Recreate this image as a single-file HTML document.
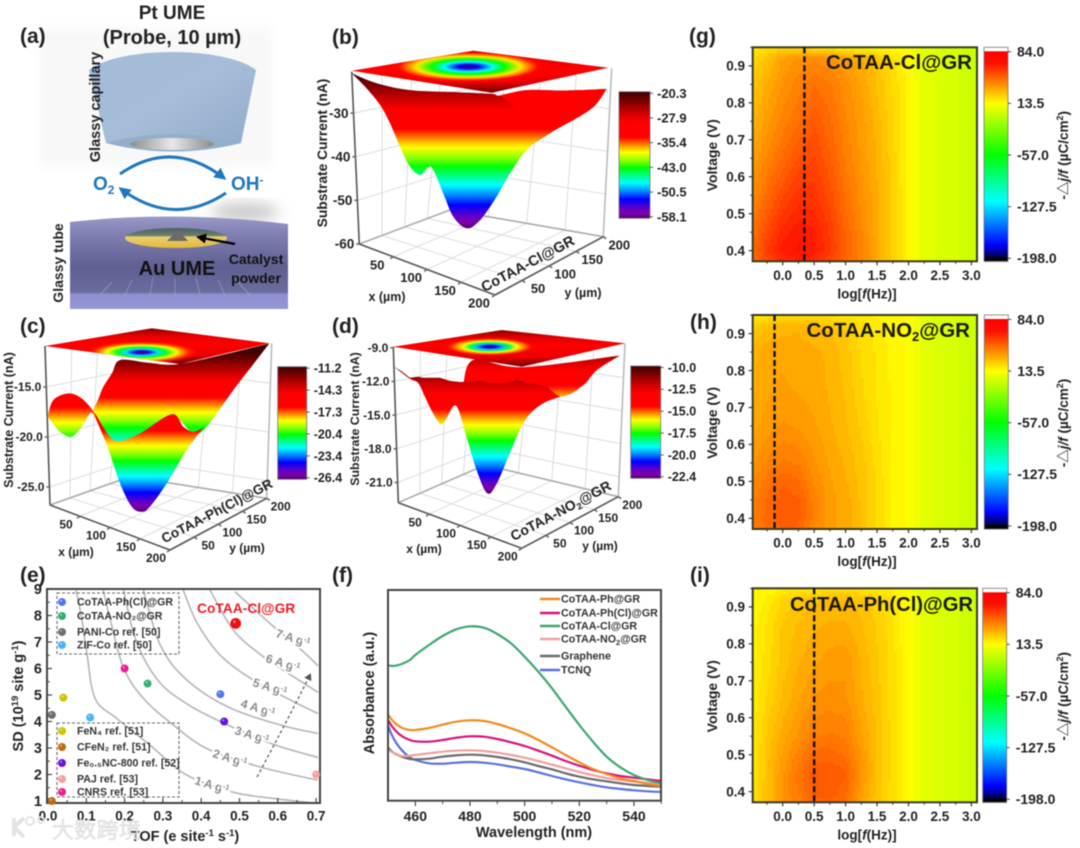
<!DOCTYPE html>
<html lang="en">
<head>
<meta charset="utf-8">
<title>Catalyst characterization figure</title>
<style>
html,body{margin:0;padding:0;background:#fff;width:1080px;height:848px;overflow:hidden}
svg{display:block;filter:blur(0.4px)}
text{font-family:"Liberation Sans","Noto Sans CJK SC",sans-serif;font-weight:bold;fill:#222}
</style>
</head>
<body>
<svg id="figure" xmlns="http://www.w3.org/2000/svg" width="1080" height="848" viewBox="0 0 1080 848">
<defs id="defs">
  <linearGradient id="capGrad" x1="0" y1="0" x2="1" y2="1"><stop offset="0" stop-color="#a3bcd8"/><stop offset=".5" stop-color="#a6bdd8"/><stop offset="1" stop-color="#8fa9c9"/></linearGradient>
  <linearGradient id="diskGrad" x1="0" y1="0" x2="1" y2="0"><stop offset="0" stop-color="#8d8d8d"/><stop offset=".5" stop-color="#e8e8e8"/><stop offset="1" stop-color="#8a8a8a"/></linearGradient>
  <linearGradient id="tubeGrad" x1="0" y1="0" x2="0" y2="1"><stop offset="0" stop-color="#9a9ac8"/><stop offset=".2" stop-color="#7e7eb0"/><stop offset=".55" stop-color="#5f6091"/><stop offset=".82" stop-color="#6b6c9f"/><stop offset=".84" stop-color="#8f90cf"/><stop offset="1" stop-color="#9596d6"/></linearGradient>
  <linearGradient id="auGrad" x1="0" y1="0" x2="0" y2="1"><stop offset="0" stop-color="#47605f"/><stop offset=".38" stop-color="#6d7f72"/><stop offset=".45" stop-color="#e8cf70"/><stop offset="1" stop-color="#e2b93a"/></linearGradient>
  <filter id="soft" x="-30%" y="-30%" width="160%" height="160%"><feGaussianBlur stdDeviation="7"/></filter>
  <filter id="softBg" x="-10%" y="-10%" width="120%" height="120%"><feGaussianBlur stdDeviation="5"/></filter>
  <marker id="arrowBlue" markerWidth="13" markerHeight="13" refX="9" refY="6" orient="auto" markerUnits="userSpaceOnUse"><path d="M0,0 L12,6 L0,12 Z" fill="#1f78bd"/></marker>
  <marker id="arrowBlack" markerWidth="11" markerHeight="11" refX="6" refY="5" orient="auto" markerUnits="userSpaceOnUse"><path d="M0,0 L10,5 L0,10 Z" fill="#000"/></marker>
  <marker id="arrowGrey" markerWidth="8" markerHeight="8" refX="5" refY="4" orient="auto" markerUnits="userSpaceOnUse"><path d="M0,0 L7,4 L0,8 Z" fill="#555"/></marker>
</defs>

<!-- panel a -->
<g id="panel-a">
  <rect x="40" y="28" width="232" height="138" fill="#f8f8f8" filter="url(#softBg)"/>
  <path d="M89,70 C120,46 225,46 256,70 L241,143 Q172,160 106,143 Z" fill="url(#capGrad)"/>
  <path d="M106,143 Q172,125 241,143 Q172,160 106,143 Z" fill="#93aecb"/>
  <ellipse cx="172" cy="144" rx="42" ry="6" fill="url(#diskGrad)"/>
  <ellipse cx="245" cy="212" rx="34" ry="9" fill="#c8c8c8" filter="url(#soft)"/>
  <path d="M120,174 Q172,138 224,178" fill="none" stroke="#1f78bd" stroke-width="3" marker-end="url(#arrowBlue)"/>
  <path d="M226,193 Q173,228 121,189" fill="none" stroke="#1f78bd" stroke-width="3" marker-end="url(#arrowBlue)"/>
  <path d="M70,222 Q175,210 288,224 L288,309 L70,309 Z" fill="url(#tubeGrad)"/>
  <g stroke="#b9b9e2" stroke-width=".6" opacity=".7">
    <path d="M100,295 L112,282 M125,295 L132,280 M150,295 L153,278 M175,295 L175,278 M200,295 L196,278 M225,295 L218,280 M250,295 L238,282"/>
  </g>
  <ellipse cx="176" cy="238" rx="51" ry="10" fill="url(#auGrad)"/>
  <path d="M178,230 L167,241 L188,241 Z" fill="#6d6a6a"/>
  <line x1="235" y1="244" x2="200" y2="237.5" stroke="#000" stroke-width="2.2" marker-end="url(#arrowBlack)"/>
  <text x="172" y="19" font-size="19" text-anchor="middle">Pt UME</text>
  <text x="172" y="44" font-size="20" text-anchor="middle">(Probe, 10 µm)</text>
  <text transform="translate(100,107) rotate(-90)" font-size="14.5" text-anchor="middle">Glassy capillary</text>
  <text transform="translate(63,263) rotate(-90)" font-size="14" text-anchor="middle">Glassy tube</text>
  <text x="93" y="190" font-size="19" style="fill:#1f78bd">O<tspan font-size="12" dy="4">2</tspan></text>
  <text x="231" y="190" font-size="19" style="fill:#1f78bd">OH<tspan font-size="12" dy="-6">-</tspan></text>
  <text x="177" y="275" font-size="20" text-anchor="middle" style="fill:#111">Au UME</text>
  <text x="256" y="264" font-size="14" text-anchor="middle" style="fill:#111">Catalyst</text>
  <text x="256" y="283" font-size="14" text-anchor="middle" style="fill:#111">powder</text>
</g>

<g id="panel-b"></g>
<g id="panel-c"></g>
<g id="panel-d"></g>
<g id="panel-e"></g>
<g id="panel-f"></g>
<g id="panel-g"></g>
<g id="panel-h"></g>
<g id="panel-i"></g>

<!-- panel letters -->
<g font-size="21">
  <text x="20" y="43" font-size="21">(a)</text>
  <text x="332" y="44" font-size="21">(b)</text>
  <text x="20" y="333" font-size="21">(c)</text>
  <text x="332" y="333" font-size="21">(d)</text>
  <text x="20" y="582" font-size="21">(e)</text>
  <text x="332" y="582" font-size="21">(f)</text>
  <text x="689" y="43" font-size="21">(g)</text>
  <text x="690" y="329" font-size="21">(h)</text>
  <text x="690" y="582" font-size="21">(i)</text>
</g>

<!-- static axis titles -->
<text transform="translate(327,153) rotate(-90)" font-size="13.8" text-anchor="middle">Substrate Current (nA)</text>
<text transform="translate(13,420) rotate(-90)" font-size="12.6" text-anchor="middle">Substrate Current (nA)</text>
<text transform="translate(359,419) rotate(-90)" font-size="12.4" text-anchor="middle">Substrate Current (nA)</text>
<text x="387" y="301" font-size="12.5" text-anchor="middle">x (µm)</text>
<text x="583" y="297" font-size="12.5" text-anchor="middle">y (µm)</text>
<text x="76" y="556" font-size="12" text-anchor="middle">x (µm)</text>
<text x="247" y="552" font-size="12" text-anchor="middle">y (µm)</text>
<text x="424" y="553" font-size="12" text-anchor="middle">x (µm)</text>
<text x="600" y="550" font-size="12" text-anchor="middle">y (µm)</text>
<text transform="translate(530,268) rotate(-28)" font-size="14.5" text-anchor="middle">CoTAA-Cl@GR</text>
<text transform="translate(219,515) rotate(-27.5)" font-size="13.6" text-anchor="middle">CoTAA-Ph(Cl)@GR</text>
<text transform="translate(563,515) rotate(-28)" font-size="14" text-anchor="middle">CoTAA-NO<tspan font-size="9" dy="3">2</tspan><tspan dy="-3">@GR</tspan></text>

<text transform="translate(23,696) rotate(-90)" font-size="14.5" text-anchor="middle">SD (10<tspan font-size="9.5" dy="-5">19</tspan><tspan dy="5"> site g</tspan><tspan font-size="9.5" dy="-5">-1</tspan><tspan dy="5">)</tspan></text>
<text x="185" y="841" font-size="14.5" text-anchor="middle">TOF (e site<tspan font-size="9.5" dy="-5">-1</tspan><tspan dy="5"> s</tspan><tspan font-size="9.5" dy="-5">-1</tspan><tspan dy="5">)</tspan></text>
<text x="197" y="613" font-size="13.8" style="fill:#ee1c25">CoTAA-Cl@GR</text>

<text x="534" y="837" font-size="14.5" text-anchor="middle">Wavelength (nm)</text>
<text transform="translate(374,693) rotate(-90)" font-size="14.5" text-anchor="middle">Absorbance (a.u.)</text>

<text x="972" y="69" font-size="20.5" text-anchor="end" style="fill:#1a1a10">CoTAA-Cl@GR</text>
<text x="970" y="337" font-size="20.5" text-anchor="end" style="fill:#1a1a10">CoTAA-NO<tspan font-size="13" dy="4">2</tspan><tspan dy="-4">@GR</tspan></text>
<text x="973" y="611" font-size="20.2" text-anchor="end" style="fill:#1a1a10">CoTAA-Ph(Cl)@GR</text>

<!-- watermark -->
<g id="watermark" opacity=".95">
  <path d="M14,818 L14,836 M14,827 L24,818 M14,827 L24,837" fill="none" stroke="#e2e2e2" stroke-width="4"/>
  <circle cx="30" cy="821" r="4" fill="none" stroke="#e2e2e2" stroke-width="2"/>
  <circle cx="41" cy="820" r="3" fill="none" stroke="#e2e2e2" stroke-width="2"/>
  <text x="52" y="838" font-size="22" style="fill:#eaeaea;stroke:#cfcfcf;stroke-width:.4;font-weight:normal;letter-spacing:.3px">大数跨境</text>
</g>
</svg>

<script>
/* ---------- panel (b) surface data: u = position across the view (µm), currents in nA ---------- */
const bTicksZ = [-30, -40, -50, -60];
const bBarLabels = ['-20.3', '-27.9', '-35.4', '-43.0', '-50.5', '-58.1'];
const bUpperU = [0, 19.6, 45.8, 83.7, 109.8, 116.3, 137.3, 168.6, 200];
const bUpperI = [-20.3, -22.7, -24.4, -24.9, -25.3, -25.7, -24.4, -24.5, -24.1];
const bLowerU = [0, 11.8, 22.2, 30.1, 37.9, 45.8, 53.6, 60.1, 64.1, 71.9, 79.7, 90.2, 100.7, 113.7, 124.2, 137.3, 155.6, 186.9, 200];
const bLowerI = [-20.3, -24, -28, -32.5, -38.2, -43.1, -45.1, -43.2, -43.9, -49.6, -55.3, -58.1, -56.1, -50.4, -44.7, -39, -34.9, -29.2, -24.1];
const bFlapUpperU = [116.3, 137.3, 168.6, 200];
const bFlapUpperI = [-25.7, -24.4, -24.5, -24.1];
const bFlapLowerU = [116.3, 135, 155.6, 186.9, 200];
const bFlapLowerI = [-25.7, -30, -33.5, -29.2, -24.1];
const bPlaneRadii = [0, 12, 28, 42, 60, 80, 100];
const bPlaneLevels = [-58.1, -53, -47.5, -43, -38, -34, -30];

/* ---------- panel (c) surface data ---------- */
const cTicksZ = [-15, -20, -25];
const cBarLabels = ['-11.2', '-14.3', '-17.3', '-20.4', '-23.4', '-26.4'];
const cBackUpperU = [41.2, 46, 50.2, 58, 65.3, 90, 116.4, 160, 200];
const cBackUpperI = [-18.2, -16.8, -15.4, -13.8, -12.2, -12.5, -12.7, -11.5, -10.2];
const cBackLowerU = [41.2, 56.2, 83.3, 111.9, 131.4, 143.5, 167.5, 185, 200];
const cBackLowerI = [-18.2, -21.8, -21.4, -19, -21, -20.2, -15.8, -12.8, -10.2];
const cLobeUpperU = [0, 5.1, 18.6, 30.7, 42.7, 53.2];
const cLobeUpperI = [-17.8, -15.8, -15, -15.6, -17.4, -19.8];
const cLobeLowerU = [0, 11.1, 21.7, 30.7, 38.2, 42.7, 53.2];
const cLobeLowerI = [-17.8, -19.6, -20.2, -19, -17.4, -17.8, -19.8];
const cWellUpperU = [42.7, 56.2, 65.3, 83.3, 111.9, 122.4, 131.4, 140.5];
const cWellUpperI = [-14.6, -17.4, -17.9, -17, -14.7, -16.2, -16.8, -16.3];
const cWellLowerU = [42.7, 51.7, 56.2, 65.3, 75.8, 84.8, 92.3, 107.4, 125.4, 140.5];
const cWellLowerI = [-15, -17.8, -19.4, -23, -25.8, -26.4, -25.8, -23, -19, -16.3];
const cPlaneRadii = [0, 12, 28, 42, 60, 80, 100];
const cPlaneLevels = [-26.4, -24.6, -22.4, -20.6, -18.6, -17, -15.5];

/* ---------- panel (d) surface data ---------- */
const dTicksZ = [-9, -12, -15, -18, -21];
const dBarLabels = ['-10.0', '-12.5', '-15.0', '-17.5', '-20.0', '-22.4'];
const dBackUpperU = [61.8, 71.2, 113.2, 200];
const dBackUpperI = [-14.2, -12, -12.7, -11.6];
const dBackLowerU = [61.8, 100, 147.1, 167.6, 179.4, 200];
const dBackLowerI = [-14.2, -15.5, -15.5, -14.4, -13, -11.6];
const dMainUpperU = [0, 7.4, 14.7, 22.1, 26.5, 32.4, 41.2, 50, 58.8, 70.6, 76.5, 85.3, 94.1, 100, 108.8, 113.2, 117.6, 126.5, 135.3, 144.1, 147.1];
const dMainUpperI = [-10.4, -10.9, -11.5, -11.4, -11.5, -11.5, -11.5, -11.8, -11.9, -11.9, -11.8, -12, -12, -12, -11.7, -11.8, -12, -12.1, -12.3, -13.1, -13.3];
const dMainLowerU = [0, 14.7, 22.1, 27.9, 35.3, 42.1, 47.1, 52.9, 57.4, 64.7, 73.5, 82.9, 91.2, 102.9, 111.8, 120.6, 132.4, 147.1];
const dMainLowerI = [-10.4, -11.6, -12, -13.3, -14.9, -15.9, -15.3, -14.2, -14.5, -17.1, -20.2, -22.4, -21.5, -18.6, -16.4, -14.9, -13.9, -13.3];
const dPlaneRadii = [0, 14, 30, 44, 60, 80, 100];
const dPlaneLevels = [-22.4, -20.8, -19.4, -18, -16, -15, -14];

/* ---------- panel (e) data ---------- */
const tofTicks = [0, 0.1, 0.2, 0.3, 0.4, 0.5, 0.6, 0.7];
const sdTicks = [1, 2, 3, 4, 5, 6, 7, 8, 9];
const catalystNames = ['CoTAA-Cl@GR', 'CoTAA-Ph(Cl)@GR', 'CoTAA-NO2@GR', 'PANI-Co', 'ZIF-Co', 'FeN4', 'CFeN2', 'Fe0.5NC-800', 'PAJ', 'CNRS'];
const catalystTof = [0.49, 0.45, 0.26, 0.01, 0.11, 0.04, 0.01, 0.46, 0.70, 0.20];
const catalystSd = [7.7, 5.03, 5.43, 4.25, 4.15, 4.9, 1.0, 4.0, 2.0, 6.0];
const catalystColors = ['#f01010', '#4f78f0', '#2fb070', '#6e6e6e', '#45b4f5', '#cfc400', '#c06a10', '#6a10e0', '#f5a0a0', '#ee1a90'];
const curve1Tof = [0.073, 0.088, 0.101, 0.123, 0.179, 0.266, 0.362, 0.484, 0.588, 0.702];
const curve1Sd = [8.96, 7.89, 6.63, 4.87, 4.12, 3.11, 1.98, 1.33, 1.10, 0.91];
const curve2Tof = [0.144, 0.166, 0.198, 0.249, 0.327, 0.414, 0.536, 0.623, 0.705];
const curve2Sd = [8.96, 7.64, 6.0, 4.87, 3.87, 2.98, 2.36, 2.04, 1.79];
const curve3Tof = [0.197, 0.231, 0.29, 0.37, 0.460, 0.588, 0.705];
const curve3Sd = [8.96, 7.01, 5.5, 4.6, 3.93, 3.14, 2.64];
const curve4Tof = [0.249, 0.293, 0.36, 0.47, 0.606, 0.705];
const curve4Sd = [8.96, 6.89, 5.6, 4.55, 3.87, 3.55];
const curve5Tof = [0.353, 0.39, 0.45, 0.532, 0.641, 0.705];
const curve5Sd = [8.96, 7.7, 6.5, 5.6, 4.75, 4.30];
const curve6Tof = [0.423, 0.484, 0.562, 0.667, 0.705];
const curve6Sd = [8.96, 7.45, 6.45, 5.45, 5.10];
const curve7Tof = [0.488, 0.580, 0.667, 0.705];
const curve7Sd = [8.90, 7.70, 6.63, 6.10];
const currentLabels = ['1 A g', '2 A g', '3 A g', '4 A g', '5 A g', '6 A g', '7 A g'];

/* ---------- panel (f) data ---------- */
const wavelengths = [450, 452, 455, 458, 460, 465, 470, 475, 480, 485, 490, 495, 500, 505, 510, 515, 520, 525, 530, 535, 540, 545, 550];
const wavelengthTicks = [460, 480, 500, 520, 540];
const absNames = ['TCNQ', 'Graphene', 'CoTAA-NO2@GR', 'CoTAA-Ph(Cl)@GR', 'CoTAA-Ph@GR', 'CoTAA-Cl@GR'];
const absColors = ['#5a70e0', '#6a6a6a', '#f0a0a0', '#d8127a', '#f08c1e', '#3fa672'];
const absTcnq = [225, 187, 152, 130, 122, 112, 111, 114, 116, 114, 109, 102, 95, 85, 74, 64, 55, 47, 40, 35, 31, 28, 26];
const absGraphene = [159, 144, 132, 125, 124, 126, 132, 136, 138, 136, 131, 124, 115, 104, 94, 82, 72, 64, 58, 52, 47, 44, 42];
const absNo2 = [152, 144, 134, 135, 137, 142, 147, 150, 151, 149, 144, 137, 129, 119, 108, 97, 86, 76, 68, 62, 57, 54, 50];
const absPhCl = [242, 217, 194, 182, 178, 177, 182, 189, 193, 192, 185, 175, 164, 150, 135, 119, 105, 92, 82, 74, 69, 64, 59];
const absPh = [259, 237, 219, 212, 212, 218, 228, 237, 241, 239, 230, 217, 202, 182, 160, 137, 115, 95, 80, 67, 59, 50, 44];
const absCl = [407, 404, 410, 422, 437, 467, 494, 514, 523, 519, 500, 472, 432, 387, 337, 282, 227, 177, 132, 100, 77, 62, 52];
const absLegendNames = ['CoTAA-Ph@GR', 'CoTAA-Ph(Cl)@GR', 'CoTAA-Cl@GR', 'CoTAA-NO2@GR', 'Graphene', 'TCNQ'];
const absLegendColors = ['#f08c1e', '#d8127a', '#3fa672', '#f0a0a0', '#6a6a6a', '#5a70e0'];

/* ---------- panels (g,h,i) heatmap data: rows by voltage, columns by log f ---------- */
const heatLogF = [-0.48, -0.25, 0, 0.25, 0.5, 0.75, 1, 1.25, 1.5, 1.75, 2, 2.25, 2.5, 2.75, 3.1];
const heatVoltage = [0.95, 0.92, 0.85, 0.75, 0.65, 0.55, 0.5, 0.45, 0.4, 0.37];
const heatXTicks = [0, 0.5, 1, 1.5, 2, 2.5, 3];
const heatYTicks = [0.4, 0.5, 0.6, 0.7, 0.8, 0.9];
const heatBarTicks = [84, 13.5, -57, -127.5, -198];
const heatG = [
  [18, 20, 22, 22, 20, 18, 16, 15, 14, 13, 12, 6, 4, 2, -2],
  [22, 27, 35, 38, 40, 38, 35, 32, 27, 21, 14, 6, 4, 2, -2],
  [26, 32, 38, 42, 46, 44, 39, 34, 28, 22, 15, 6, 4, 2, -2],
  [30, 36, 42, 46, 52, 47, 41, 36, 30, 23, 15, 6, 4, 2, -2],
  [35, 41, 47, 53, 56, 50, 43, 37, 31, 24, 15, 6, 4, 2, -2],
  [40, 47, 55, 60, 60, 54, 46, 39, 32, 25, 15, 6, 4, 2, -2],
  [43, 51, 59, 63, 62, 56, 47, 40, 33, 25, 15, 6, 4, 2, -2],
  [45, 55, 63, 67, 65, 58, 49, 41, 33, 25, 15, 6, 4, 2, -2],
  [47, 58, 66, 68, 66, 59, 50, 42, 33, 25, 15, 6, 4, 2, -2],
  [46, 55, 62, 64, 62, 55, 48, 41, 33, 25, 15, 6, 4, 2, -2]
];
const heatH = [
  [18, 19, 20, 20, 19, 19, 18, 17, 16, 15, 13, 5, 4, 2, -1],
  [24, 28, 30, 31, 29, 28, 25, 21, 18, 15, 13, 5, 4, 2, -1],
  [30, 34, 34, 33, 32, 31, 27, 22, 19, 15, 13, 5, 4, 2, -1],
  [31, 34, 35, 34, 33, 31, 28, 23, 19, 16, 13, 5, 4, 2, -1],
  [33, 36, 38, 37, 35, 32, 29, 25, 20, 16, 13, 5, 4, 2, -1],
  [37, 41, 44, 43, 38, 34, 31, 27, 21, 16, 13, 5, 4, 2, -1],
  [40, 45, 49, 47, 40, 35, 32, 27, 22, 16, 13, 5, 4, 2, -1],
  [42, 47, 51, 50, 42, 36, 33, 28, 22, 16, 13, 5, 4, 2, -1],
  [43, 48, 51, 50, 42, 36, 33, 28, 22, 16, 13, 5, 4, 2, -1],
  [43, 47, 50, 49, 41, 36, 33, 28, 22, 16, 13, 5, 4, 2, -1]
];
const heatI = [
  [13, 14, 16, 17, 18, 19, 20, 19, 17, 16, 12, 5, 4, 2, -1],
  [14, 17, 23, 26, 28, 29, 29, 27, 24, 19, 13, 5, 4, 2, -1],
  [15, 20, 26, 29, 31, 32, 32, 29, 25, 20, 13, 5, 4, 2, -1],
  [16, 21, 27, 31, 34, 36, 37, 31, 26, 21, 13, 5, 4, 2, -1],
  [17, 23, 29, 34, 38, 39, 38, 32, 27, 21, 13, 5, 4, 2, -1],
  [18, 26, 33, 38, 43, 44, 43, 35, 28, 21, 13, 5, 4, 2, -1],
  [18, 27, 35, 42, 48, 48, 46, 37, 28, 21, 13, 5, 4, 2, -1],
  [18, 28, 37, 45, 51, 52, 50, 38, 28, 21, 13, 5, 4, 2, -1],
  [19, 28, 38, 44, 50, 51, 48, 36, 27, 21, 13, 5, 4, 2, -1],
  [19, 28, 38, 42, 49, 49, 46, 34, 27, 21, 13, 5, 4, 2, -1]
];
const dashG = 0.345;
const dashH = -0.13;
const dashI = 0.5;

/* ---------- helpers ---------- */
const NS = 'http://www.w3.org/2000/svg';
const defs = document.getElementById('defs');
function make(tag, attrs, parent) {
  const el = document.createElementNS(NS, tag);
  for (const k in attrs) el.setAttribute(k, attrs[k]);
  if (parent) parent.appendChild(el);
  return el;
}
function label(parent, name, x, y, str, size, anchor, extraStyle) {
  const el = make('text', { x: x, y: y, 'font-size': size, 'text-anchor': anchor || 'middle', dy: '.35em' }, parent);
  
  
  el.textContent = str;
  if (extraStyle) el.setAttribute('style', extraStyle);
  return el;
}
function chem(el, base, sub) {
  el.textContent = '';
  const a = document.createTextNode(base);
  el.appendChild(a);
  const t = make('tspan', { 'font-size': 7.5, dy: 2.5 }, el);
  t.textContent = sub[0];
  const r = make('tspan', { dy: -2.5 }, el);
  r.textContent = sub[1];
}
function smoothPath(pts, move) {
  let d = (move ? 'M' : 'L') + pts[0][0].toFixed(1) + ',' + pts[0][1].toFixed(1);
  for (let i = 0; i < pts.length - 1; i++) {
    const p0 = pts[Math.max(0, i - 1)], p1 = pts[i], p2 = pts[i + 1], p3 = pts[Math.min(pts.length - 1, i + 2)];
    const c1x = p1[0] + (p2[0] - p0[0]) / 6, c1y = p1[1] + (p2[1] - p0[1]) / 6;
    const c2x = p2[0] - (p3[0] - p1[0]) / 6, c2y = p2[1] - (p3[1] - p1[1]) / 6;
    d += 'C' + c1x.toFixed(1) + ',' + c1y.toFixed(1) + ' ' + c2x.toFixed(1) + ',' + c2y.toFixed(1) + ' ' + p2[0].toFixed(1) + ',' + p2[1].toFixed(1);
  }
  return d;
}
function straightPath(pts) {
  return pts.map(function (q, i) { return (i ? 'L' : 'M') + q[0].toFixed(1) + ',' + q[1].toFixed(1); }).join('');
}
function lerp(a, b, t) { return [a[0] + (b[0] - a[0]) * t, a[1] + (b[1] - a[1]) * t]; }
function hex(c) { return [parseInt(c.substr(1, 2), 16), parseInt(c.substr(3, 2), 16), parseInt(c.substr(5, 2), 16)]; }
function mixStops(stops, t) {
  if (t <= stops[0][0]) return stops[0][1];
  for (let i = 0; i < stops.length - 1; i++) {
    if (t <= stops[i + 1][0]) {
      const f = (t - stops[i][0]) / (stops[i + 1][0] - stops[i][0]);
      const a = hex(stops[i][1]), b = hex(stops[i + 1][1]);
      return 'rgb(' + Math.round(a[0] + (b[0] - a[0]) * f) + ',' + Math.round(a[1] + (b[1] - a[1]) * f) + ',' + Math.round(a[2] + (b[2] - a[2]) * f) + ')';
    }
  }
  return stops[stops.length - 1][1];
}

/* colour scale for the SECM surfaces, fraction from top of bar */
const surfaceStops = [[0, '#3d0000'], [.08, '#800000'], [.17, '#d00000'], [.24, '#ff0000'], [.36, '#ff0000'], [.41, '#ff7000'], [.45, '#ffc800'], [.48, '#ffff00'], [.55, '#80ff00'], [.6, '#00ff00'], [.72, '#00ffff'], [.79, '#0080ff'], [.85, '#0000ff'], [.92, '#6000c8'], [.97, '#8000a8'], [1, '#400060']];
let gradCount = 0;
function surfaceGradient(y1, y2) {
  const id = 'sg' + (gradCount++);
  const g = make('linearGradient', { id: id, gradientUnits: 'userSpaceOnUse', x1: 0, x2: 0, y1: y1, y2: y2 }, defs);
  surfaceStops.forEach(function (s) { make('stop', { offset: s[0], 'stop-color': s[1] }, g); });
  return id;
}

/* ---------- 3D surface panel ---------- */
function surfacePanel(p) {
  const g = document.getElementById(p.id);
  const yOfI = function (i) { return p.yAtMin + (i - p.iMin) * p.pxPerNa * -1; };
  const xOfU = function (u) { return p.x0 + u * p.uScale; };
  const zT = function (z) { return (z - p.zRange[0]) / (p.zRange[1] - p.zRange[0]); };
  const grid = make('g', { stroke: '#dcdcdc', 'stroke-width': 1, fill: 'none' }, g);
  
  
  function seg(parent, a, b, name) {
    const l = make('line', { x1: a[0], y1: a[1], x2: b[0], y2: b[1] }, parent);
    
    
    return l;
  }
  [.25, .5, .75].forEach(function (t) {
    seg(grid, lerp(p.L, p.F, t), lerp(p.B, p.R, t), 'floor-gridline-x');
    seg(grid, lerp(p.F, p.R, t), lerp(p.L, p.B, t), 'floor-gridline-y');
    seg(grid, lerp(p.L, p.B, t), lerp(p.TL, p.TB, t), 'wall-gridline-left');
    seg(grid, lerp(p.B, p.R, t), lerp(p.TB, p.TR, t), 'wall-gridline-right');
  });
  p.ticksZ.forEach(function (z) {
    const t = zT(z);
    const a = lerp(p.L, p.TL, t), b = lerp(p.B, p.TB, t), c = lerp(p.R, p.TR, t);
    seg(grid, a, b, 'wall-gridline-z');
    seg(grid, b, c, 'wall-gridline-z');
  });
  const box = make('g', { stroke: '#6a6a6a', 'stroke-width': 1.6, fill: 'none' }, g);
  
  
  seg(box, p.L, p.B, 'floor-back-edge').setAttribute('stroke', '#aaa');
  seg(box, p.B, p.R, 'floor-back-edge').setAttribute('stroke', '#aaa');
  seg(box, p.R, p.TR, 'right-vertical-edge').setAttribute('stroke', '#bbb');
  seg(box, p.L, p.TL, 'z-axis-line').setAttribute('stroke', '#555');
  seg(box, p.L, p.F, 'x-axis-line').setAttribute('stroke', '#555');
  seg(box, p.F, p.R, 'y-axis-line').setAttribute('stroke', '#555');

  [50, 100, 150, 200].forEach(function (v) {
    const t = v / 200;
    const xp = lerp(p.L, p.F, t), yp = lerp(p.F, p.R, t);
    seg(box, xp, [xp[0] - 3, xp[1] + 2], 'x-tick');
    seg(box, yp, [yp[0] + 3, yp[1] + 2], 'y-tick');
    label(g, 'x-tick-label', xp[0] - p.off, xp[1] + 8, String(v), p.tickFont);
    label(g, 'y-tick-label', yp[0] + p.off, yp[1] + 8, String(v), p.tickFont);
  });
  p.ticksZ.forEach(function (z) {
    const a = lerp(p.L, p.TL, zT(z));
    seg(box, a, [a[0] - 3, a[1]], 'z-tick');
    label(g, 'z-tick-label', a[0] - 5, a[1], p.zFmt(z), p.zFont, 'end');
  });

  p.layers.forEach(function (ly) {
    const upper = ly.upU.map(function (u, k) { return [xOfU(u), yOfI(ly.upI[k]) - ly.shift]; });
    const lower = ly.loU.map(function (u, k) { return [xOfU(u), yOfI(ly.loI[k]) - ly.shift]; }).reverse();
    const d = (ly.jagged ? straightPath(upper) : smoothPath(upper, true)) + smoothPath(lower, false) + 'Z';
    let fill;
    if (ly.flat !== undefined) {
      fill = mixStops(surfaceStops, (p.iMax - ly.flat) / (p.iMax - p.iMin));
    } else {
      fill = 'url(#' + surfaceGradient(yOfI(p.iMax) - ly.shift, yOfI(p.iMin) - ly.shift) + ')';
    }
    const path = make('path', { d: d, fill: fill }, g);
    
    
  });

  /* projected contour plane */
  const cid = 'planeClip' + p.id;
  const clip = make('clipPath', { id: cid }, defs);
  make('polygon', { points: p.plane.map(function (q) { return q.join(','); }).join(' ') }, clip);
  const pg = 'planeBase' + p.id;
  const lg = make('linearGradient', { id: pg, x1: 0, x2: 0, y1: 0, y2: 1 }, defs);
  [[0, '#8c0000'], [.22, '#e80000'], [.45, '#ff0000'], [.75, '#e80000'], [1, '#6a0000']].forEach(function (s) { make('stop', { offset: s[0], 'stop-color': s[1] }, lg); });
  const poly = make('polygon', { points: p.plane.map(function (q) { return q.join(','); }).join(' '), fill: 'url(#' + pg + ')' }, g);
  
  
  const rg = 'planeRing' + p.id;
  const rad = make('radialGradient', { id: rg }, defs);
  const rMax = p.planeRadii[p.planeRadii.length - 1];
  p.planeRadii.forEach(function (r, k) {
    const col = mixStops(surfaceStops, (p.iMax - p.planeLevels[k]) / (p.iMax - p.iMin));
    const st = make('stop', { offset: r / rMax, 'stop-color': col }, rad);
    if (k === p.planeRadii.length - 1) st.setAttribute('stop-opacity', 0);
  });
  const ring = make('ellipse', { cx: p.ring[0], cy: p.ring[1], rx: p.ring[2], ry: p.ring[2] * p.ring[3], fill: 'url(#' + rg + ')', 'clip-path': 'url(#' + cid + ')' }, g);
  
  

  /* colour bar */
  const bid = surfaceGradient(p.bar[1], p.bar[1] + p.bar[3]);
  const barRect = make('rect', { x: p.bar[0], y: p.bar[1], width: p.bar[2], height: p.bar[3], fill: 'url(#' + bid + ')', stroke: '#777', 'stroke-width': .8 }, g);
  
  
  p.barLabels.forEach(function (s, k) {
    const y = p.bar[1] + 1.5 + k * (p.bar[3] - 3) / (p.barLabels.length - 1);
    seg(g, [p.bar[0] + p.bar[2], y], [p.bar[0] + p.bar[2] + 3, y], 'colorbar-tick').setAttribute('stroke', '#555');
    label(g, 'colorbar-label', p.bar[0] + p.bar[2] + 7, y, s, p.barFont, 'start');
  });
}

surfacePanel({
  id: 'panel-b', L: [359.3, 244], F: [495, 295], R: [603.3, 236.7], B: [450, 210], TL: [351.7, 71.7], TR: [611.7, 68.3], TB: [473.3, 50.7],
  zRange: [-60, -20.5], ticksZ: bTicksZ, zFmt: function (z) { return String(z); }, zFont: 13.5, tickFont: 13, off: 16,
  iMin: -58.1, iMax: -20.3, yAtMin: 228.3, pxPerNa: 4.1, x0: 351.67, uScale: 1.275,
  layers: [
    { name: 'surface-main', upU: bUpperU, upI: bUpperI, loU: bLowerU, loI: bLowerI, shift: 0 },
    { name: 'surface-flap', upU: bFlapUpperU, upI: bFlapUpperI, loU: bFlapLowerU, loI: bFlapLowerI, shift: 0, flat: -31 }
  ],
  plane: [[351.7, 70.7], [473.3, 50.7], [608.3, 67.7], [491.7, 92.7]], ring: [468.3, 66.7, 87, .2],
  planeRadii: bPlaneRadii, planeLevels: bPlaneLevels,
  bar: [619, 91.7, 31, 126.6], barLabels: bBarLabels, barFont: 13
});
surfacePanel({
  id: 'panel-c', L: [50, 505], F: [170, 550], R: [266.7, 498.3], B: [130, 476.7], TL: [45, 346], TR: [271.7, 343.3], TB: [151.7, 328.3],
  zRange: [-26.8, -10.9], ticksZ: cTicksZ, zFmt: function (z) { return z.toFixed(1); }, zFont: 12, tickFont: 12, off: 14,
  iMin: -26.4, iMax: -11.2, yAtMin: 511.7, pxPerNa: 8.33, x0: 47.67, uScale: 1.108,
  layers: [
    { name: 'surface-back', upU: cBackUpperU, upI: cBackUpperI, loU: cBackLowerU, loI: cBackLowerI, shift: 33.3 },
    { name: 'surface-left-lobe', upU: cLobeUpperU, upI: cLobeUpperI, loU: cLobeLowerU, loI: cLobeLowerI, shift: 23.3 },
    { name: 'surface-main-well', upU: cWellUpperU, upI: cWellUpperI, loU: cWellLowerU, loI: cWellLowerI, shift: 0 }
  ],
  plane: [[45, 346], [151.7, 328.3], [269.3, 343.3], [180, 364]], ring: [141.7, 352.3, 58, .2],
  planeRadii: cPlaneRadii, planeLevels: cPlaneLevels,
  bar: [277.7, 366.7, 29, 112.6], barLabels: cBarLabels, barFont: 12.5
});
surfacePanel({
  id: 'panel-d', L: [398.3, 502.7], F: [521.7, 548.3], R: [618.3, 496.7], B: [485, 465], TL: [393.3, 346.7], TR: [625, 343.3], TB: [501.7, 330],
  zRange: [-22.8, -8.9], ticksZ: dTicksZ, zFmt: function (z) { return z.toFixed(1); }, zFont: 12, tickFont: 12, off: 14,
  iMin: -22.4, iMax: -10, yAtMin: 493.3, pxPerNa: 10.6, x0: 393.3, uScale: 1.1333,
  layers: [
    { name: 'surface-back', upU: dBackUpperU, upI: dBackUpperI, loU: dBackLowerU, loI: dBackLowerI, shift: 23.3 },
    { name: 'surface-main', upU: dMainUpperU, upI: dMainUpperI, loU: dMainLowerU, loI: dMainLowerI, shift: 0, jagged: true }
  ],
  plane: [[393.3, 346.7], [501.7, 330], [625, 343.3], [521.7, 366.7]], ring: [490, 346.7, 45, .2],
  planeRadii: dPlaneRadii, planeLevels: dPlaneLevels,
  bar: [630.7, 366, 30, 112.3], barLabels: dBarLabels, barFont: 12.5
});

/* ---------- panel (e) ---------- */
(function () {
  const g = document.getElementById('panel-e');
  const xS = function (v) { return 48 + 383 * v; };
  const yS = function (v) { return 801 - (v - 1) * 26.5; };
  const clipE = make('clipPath', { id: 'clipE' }, defs);
  make('rect', { x: 47, y: 589, width: 273, height: 214 }, clipE);
  const curves = [[curve1Tof, curve1Sd], [curve2Tof, curve2Sd], [curve3Tof, curve3Sd], [curve4Tof, curve4Sd], [curve5Tof, curve5Sd], [curve6Tof, curve6Sd], [curve7Tof, curve7Sd]];
  curves.forEach(function (c) {
    const pts = c[0].map(function (x, k) { return [xS(x), yS(c[1][k])]; });
    const path = make('path', { d: smoothPath(pts, true), fill: 'none', stroke: '#b5b5b5', 'stroke-width': 1.6, 'clip-path': 'url(#clipE)' }, g);
    
    
  });
  const labelPos = [[212, 785], [230, 758], [252, 735], [258, 708], [270, 687], [283, 663], [293, 638]];
  currentLabels.forEach(function (s, k) {
    const t = make('text', { transform: 'translate(' + labelPos[k][0] + ',' + labelPos[k][1] + ') rotate(17)', 'font-size': 12, 'text-anchor': 'middle', dy: '.35em', style: 'fill:#8a8a8a;stroke:#fff;stroke-width:4px;paint-order:stroke' }, g);
    
    
    t.textContent = s;
    const sup = make('tspan', { 'font-size': 7.5, dy: -4 }, t);
    sup.textContent = '-1';
  });
  const frame = make('rect', { x: 47, y: 589, width: 273, height: 214, fill: 'none', stroke: '#444', 'stroke-width': 2 }, g);
  
  
  tofTicks.forEach(function (v) {
    const t = make('line', { x1: xS(v), x2: xS(v), y1: 803, y2: 798, stroke: '#444', 'stroke-width': 1.2 }, g);
    
    
    if (v < .7) {
      const m = make('line', { x1: xS(v + .05), x2: xS(v + .05), y1: 803, y2: 800, stroke: '#444', 'stroke-width': 1 }, g);
      
      
    }
    label(g, 'x-tick-label', xS(v), 816, v.toFixed(1), 13.5);
  });
  sdTicks.forEach(function (v) {
    const t = make('line', { x1: 47, x2: 52, y1: yS(v), y2: yS(v), stroke: '#444', 'stroke-width': 1.2 }, g);
    
    
    if (v < 9) {
      const m = make('line', { x1: 47, x2: 50, y1: yS(v + .5), y2: yS(v + .5), stroke: '#444', 'stroke-width': 1 }, g);
      
      
    }
    label(g, 'y-tick-label', 42, yS(v), String(v), 14.5, 'end');
  });
  function sphereFill(color, k) {
    const id = 'sph' + k;
    const rg = make('radialGradient', { id: id, cx: .5, cy: .5, r: .55, fx: .35, fy: .3 }, defs);
    make('stop', { offset: 0, 'stop-color': '#ffffff' }, rg);
    make('stop', { offset: .28, 'stop-color': color }, rg);
    make('stop', { offset: 1, 'stop-color': color }, rg);
    return 'url(#' + id + ')';
  }
  catalystNames.forEach(function (name, k) {
    const c = make('circle', { cx: xS(catalystTof[k]), cy: yS(catalystSd[k]), r: k === 0 ? 5.4 : 4, fill: sphereFill(catalystColors[k], k) }, g);
    
    
  });
  const box1 = make('rect', { x: 57, y: 593, width: 122, height: 61, fill: 'none', stroke: '#666', 'stroke-width': 1.1, 'stroke-dasharray': '3 2' }, g);
  
  
  const box2 = make('rect', { x: 57, y: 723, width: 122, height: 74, fill: 'none', stroke: '#666', 'stroke-width': 1.1, 'stroke-dasharray': '3 2' }, g);
  
  
  const legendRows = [
    [602, 1, 'CoTAA-Ph(Cl)@GR'], [616, 2, 'CoTAA-NO₂@GR'], [632, 3, 'PANI-Co ref. [50]'], [645, 4, 'ZIF-Co ref. [50]'],
    [731, 5, 'FeN₄ ref. [51]'], [747, 6, 'CFeN₂ ref. [51]'], [763, 7, 'Fe₀.₅NC-800 ref. [52]'], [779, 8, 'PAJ ref. [53]'], [792, 9, 'CNRS ref. [53]']
  ];
  legendRows.forEach(function (r, i) {
    const c = make('circle', { cx: 62, cy: r[0], r: 4, fill: sphereFill(catalystColors[r[1]], 'L' + i) }, g);
    
    
    label(g, 'legend-label', 77, r[0], r[2], 10.6, 'start', 'fill:#333');
  });
  const arrow = make('path', { d: 'M257,777 Q285,725 310,675', fill: 'none', stroke: '#555', 'stroke-width': 1.2, 'stroke-dasharray': '3 2.5', 'marker-end': 'url(#arrowGrey)' }, g);
  
  
})();

/* ---------- panel (f) ---------- */
(function () {
  const g = document.getElementById('panel-f');
  const xS = function (w) { return 388 + (w - 450) * 2.733; };
  const yS = function (a) { return 800.67 - a / 3; };
  const series = [absTcnq, absGraphene, absNo2, absPhCl, absPh, absCl];
  series.forEach(function (vals, k) {
    const pts = vals.map(function (v, i) { return [xS(wavelengths[i]), yS(v)]; });
    const p = make('path', { d: smoothPath(pts, true), fill: 'none', stroke: absColors[k], 'stroke-width': 2.2 }, g);
    
    
  });
  const frame = make('rect', { x: 388, y: 590, width: 273, height: 210.7, fill: 'none', stroke: '#444', 'stroke-width': 2 }, g);
  
  
  wavelengthTicks.forEach(function (w) {
    const t = make('line', { x1: xS(w), x2: xS(w), y1: 800.7, y2: 806, stroke: '#444', 'stroke-width': 1.2 }, g);
    
    
    const m = make('line', { x1: xS(w + 10), x2: xS(w + 10), y1: 800.7, y2: 804, stroke: '#444', 'stroke-width': 1 }, g);
    
    
    label(g, 'x-tick-label', xS(w), 816, String(w), 14);
  });
  const rowY = [599, 613, 626, 639, 656, 670];
  absLegendNames.forEach(function (name, k) {
    const l = make('line', { x1: 540, x2: 560, y1: rowY[k], y2: rowY[k], stroke: absLegendColors[k], 'stroke-width': 2.4 }, g);
    
    
    const t = label(g, 'legend-label', 561, rowY[k], name, 10.7, 'start', 'fill:#333');
    if (name === 'CoTAA-NO2@GR') chem(t, 'CoTAA-NO', ['2', '@GR']);
  });
})();

/* ---------- heatmaps ---------- */
const heatStops = [[84, '#ff0000'], [68, '#ff1000'], [13.5, '#ffff00'], [-57, '#00ff00'], [-120, '#00ffff'], [-180, '#0000ff'], [-195, '#000060'], [-198, '#000000']];
function heatColor(v) {
  const t = heatStops.map(function (q) { return [-q[0], q[1]]; });
  if (v > 84) return '#ffffff';
  if (v < -202) return '#000000';
  return mixStops(t, -v);
}
function heatPanel(id, values, top, dash, barX) {
  const g = document.getElementById(id);
  const left = 752.7, right = 977, h = 214;
  const xS = function (f) { return 782.7 + 62.9 * f; };
  const yS = function (v) { return top + 18.6 + (0.9 - v) * 369.5; };
  const xInv = function (x) { return (x - 782.7) / 62.9; };
  const yInv = function (y) { return 0.9 - (y - top - 18.6) / 369.5; };
  function sample(f, v) {
    let c = 0, r = 0;
    while (c < heatLogF.length - 2 && f > heatLogF[c + 1]) c++;
    while (r < heatVoltage.length - 2 && v < heatVoltage[r + 1]) r++;
    const tx = Math.min(1, Math.max(0, (f - heatLogF[c]) / (heatLogF[c + 1] - heatLogF[c])));
    const ty = Math.min(1, Math.max(0, (heatVoltage[r] - v) / (heatVoltage[r] - heatVoltage[r + 1])));
    const a = values[r][c] * (1 - tx) + values[r][c + 1] * tx;
    const b = values[r + 1][c] * (1 - tx) + values[r + 1][c + 1] * tx;
    return a * (1 - ty) + b * ty;
  }
  const step = 3;
  for (let y = top; y < top + h; y += step) {
    let runStart = left, runKey = null;
    for (let x = left; x <= right + step; x += step) {
      const val = x > right ? null : Math.round(sample(xInv(x + step / 2), yInv(y + step / 2)) / 3) * 3;
      if (val !== runKey) {
        if (runKey !== null) {
          const w = Math.min(x, right) - runStart + .6;
          const cell = make('rect', { x: runStart.toFixed(1), y: y.toFixed(1), width: w.toFixed(1), height: Math.min(step + .6, top + h - y).toFixed(1), fill: heatColor(runKey) }, g);
          
          
        }
        runStart = x;
        runKey = val;
      }
    }
  }
  const frame = make('rect', { x: left, y: top, width: right - left, height: h, fill: 'none', stroke: '#3a3a22', 'stroke-width': 2 }, g);
  
  
  heatXTicks.forEach(function (v) {
    const t = make('line', { x1: xS(v), x2: xS(v), y1: top + h, y2: top + h + 4, stroke: '#333', 'stroke-width': 1.2 }, g);
    
    
    const m = make('line', { x1: xS(v - .25), x2: xS(v - .25), y1: top + h, y2: top + h + 2.5, stroke: '#333', 'stroke-width': 1 }, g);
    
    
    label(g, 'x-tick-label', xS(v), top + h + 14, v.toFixed(1), 13.5, 'middle');
  });
  heatYTicks.forEach(function (v) {
    const t = make('line', { x1: left, x2: left - 4, y1: yS(v), y2: yS(v), stroke: '#333', 'stroke-width': 1.2 }, g);
    
    
    const m = make('line', { x1: left, x2: left - 2.5, y1: yS(v + .05), y2: yS(v + .05), stroke: '#333', 'stroke-width': 1 }, g);
    
    
    label(g, 'y-tick-label', 745, yS(v), v.toFixed(1), 13.5, 'end');
  });
  const dl = make('line', { x1: xS(dash), x2: xS(dash), y1: top, y2: top + h, stroke: '#111', 'stroke-width': 2.4, 'stroke-dasharray': '6 3' }, g);
  
  

  /* colour bar */
  const barW = 24;
  const barY = function (v) { return top + 4.4 + (84 - v) * 0.7326; };
  for (let y = top; y < top + h; y += 1) {
    const v = 84 - (y + .5 - top - 4.4) / 0.7326;
    const cell = make('rect', { x: barX, y: y, width: barW, height: 1.4, fill: heatColor(v) }, g);
    
    
  }
  const bf = make('rect', { x: barX, y: top, width: barW, height: h, fill: 'none', stroke: '#777', 'stroke-width': .8 }, g);
  
  
  heatBarTicks.forEach(function (v) {
    const t = make('line', { x1: barX + barW, x2: barX + barW + 3, y1: barY(v), y2: barY(v), stroke: '#444', 'stroke-width': 1 }, g);
    
    
    label(g, 'colorbar-label', barX + barW + 9, barY(v), v.toFixed(1), 14, 'start');
  });
  const xt = make('text', { x: 867, y: top + h + 37, 'font-size': 13.5, 'text-anchor': 'middle' }, g);
  
  
  xt.textContent = 'log[';
  const fi = make('tspan', { 'font-style': 'italic' }, xt);
  fi.textContent = 'f';
  const rest = make('tspan', {}, xt);
  rest.textContent = '(Hz)]';
  const yt = make('text', { transform: 'translate(717,' + (top + 108) + ') rotate(-90)', 'font-size': 14, 'text-anchor': 'middle' }, g);
  
  
  yt.textContent = 'Voltage (V)';
  const ct = make('text', { transform: 'translate(1068,' + (top + 108) + ') rotate(-90)', 'font-size': 13.5, 'text-anchor': 'middle' }, g);
  
  
  ct.textContent = '-△';
  const ji = make('tspan', { 'font-style': 'italic' }, ct);
  ji.textContent = 'j/f';
  const u = make('tspan', {}, ct);
  u.textContent = ' (µC/cm';
  const sq = make('tspan', { 'font-size': 9, dy: -5 }, ct);
  sq.textContent = '2';
  const cl = make('tspan', { dy: 5 }, ct);
  cl.textContent = ')';
}
heatPanel('panel-g', heatG, 47.3, dashG, 984);
heatPanel('panel-h', heatH, 315, dashH, 984.3);
heatPanel('panel-i', heatI, 588.3, dashI, 982.7);
</script>
</body>
</html>
